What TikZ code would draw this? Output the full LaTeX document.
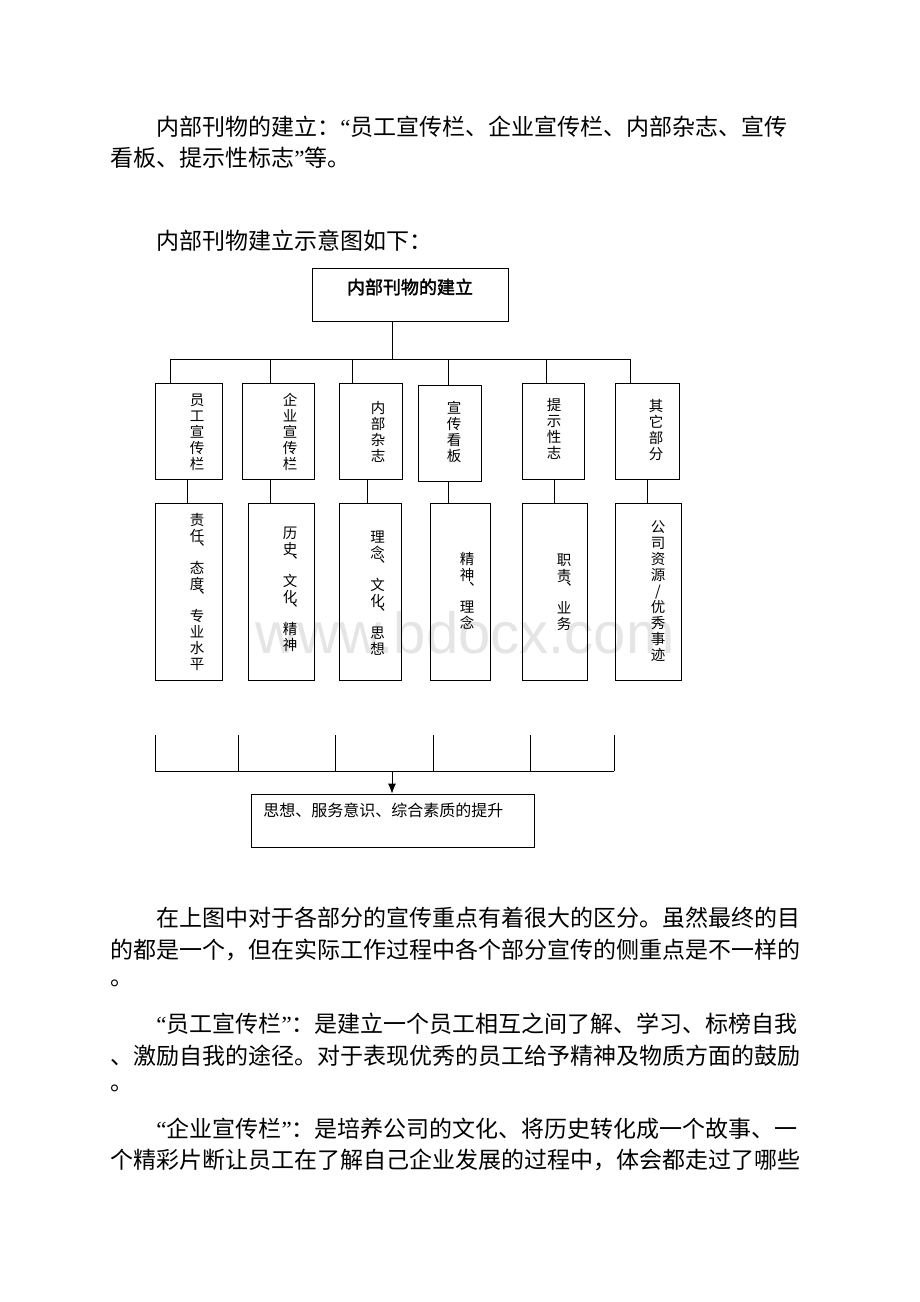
\documentclass[tikz,border=0pt]{standalone}
\usepackage{fontspec}
\setmainfont{Noto Sans CJK SC}[AutoFakeBold = 2]
\newfontfamily\markfont{Liberation Sans}
\newfontfamily\quotefont{Liberation Serif}
\newcommand\qopen{{\quotefont “}}
\newcommand\qclose{{\quotefont ”}}
\newcommand\vdun{\makebox[1em][l]{\hspace{0.65em}\smash{\raisebox{0.8em}{、}}}}
\usetikzlibrary{arrows.meta}

\begin{document}
\begin{tikzpicture}[> = {Latex[length = 10pt, width = 8pt]}, x = 1pt, y = -1pt, line width = 0.8pt,
	box/.style = {draw, rectangle, inner sep = 0pt},
	vlabel/.style = {align = center, inner sep = 0pt, font = \fontsize{14.5}{16}\selectfont},
	bodyline/.style = {anchor = west, inner sep = 0pt, font = \fontsize{23}{23}\selectfont}]

	% Page

	\fill [white] (0, 0) rectangle (920, 1302);

	% Text above the chart

	\node (introa) [bodyline] at (156, 127) {内部刊物的建立：\qopen 员工宣传栏、企业宣传栏、内部杂志、宣传};
	\node (introb) [bodyline] at (110, 158) {看板、提示性标志\qclose 等。};
	\node (caption) [bodyline] at (156, 241) {内部刊物建立示意图如下：};

	% Watermark

	\node (mark) [anchor = base west, inner sep = 0pt, text = black!10, font = \markfont\fontsize{58}{58}\selectfont] at (255, 653) {www.bdocx.com};

	% Top box

	\node (top) [box, minimum width = 196, minimum height = 53] at (410, 294.5) {};
	\node (toptext) [inner sep = 0pt, font = \fontsize{18}{18}\selectfont\bfseries] at (410, 287) {内部刊物的建立};

	% Category boxes

	\node (cat1) [box, minimum width = 67, minimum height = 96] at (188.5, 431) {};
	\node (cat2) [box, minimum width = 72, minimum height = 96] at (278, 431) {};
	\node (cat3) [box, minimum width = 63, minimum height = 96] at (370.5, 431) {};
	\node (cat4) [box, minimum width = 63, minimum height = 96] at (449.5, 433) {};
	\node (cat5) [box, minimum width = 62, minimum height = 96] at (553, 431) {};
	\node (cat6) [box, minimum width = 64, minimum height = 96] at (647, 431) {};

	\node (cat1text) [vlabel] at (197, 432) {员\\工\\宣\\传\\栏};
	\node (cat2text) [vlabel] at (290, 432) {企\\业\\宣\\传\\栏};
	\node (cat3text) [vlabel] at (378, 432) {内\\部\\杂\\志};
	\node (cat4text) [vlabel] at (454, 432) {宣\\传\\看\\板};
	\node (cat5text) [vlabel] at (554, 429) {提\\示\\性\\志};
	\node (cat6text) [vlabel] at (656, 430) {其\\它\\部\\分};

	% Content boxes

	\node (item1) [box, minimum width = 67, minimum height = 177] at (188.5, 591.5) {};
	\node (item2) [box, minimum width = 66, minimum height = 177] at (281, 591.5) {};
	\node (item3) [box, minimum width = 62, minimum height = 177] at (370, 591.5) {};
	\node (item4) [box, minimum width = 60, minimum height = 177] at (460, 591.5) {};
	\node (item5) [box, minimum width = 64.5, minimum height = 177] at (554.8, 591.5) {};
	\node (item6) [box, minimum width = 66, minimum height = 177] at (648, 591.5) {};

	\node (item1text) [vlabel] at (197, 592) {责\\任\\\vdun\\态\\度\\\vdun\\专\\业\\水\\平};
	\node (item2text) [vlabel] at (290, 589) {历\\史\\\vdun\\文\\化\\\vdun\\精\\神};
	\node (item3text) [vlabel] at (377.5, 593) {理\\念\\\vdun\\文\\化\\\vdun\\思\\想};
	\node (item4text) [vlabel] at (467, 591) {精\\神\\\vdun\\理\\念};
	\node (item5text) [vlabel] at (564, 592) {职\\责\\\vdun\\业\\务};
	\node (item6text) [vlabel] at (658, 591.5) {公\\司\\资\\源\\/\\优\\秀\\事\\迹};

	% Lines from the top box to the categories

	\coordinate (busL) at (170, 359);
	\coordinate (busR) at (630, 359);

	\draw (busL) -- (busR);
	\draw ([xshift = -18pt]top.south) -- ([xshift = -18pt]top.south |- busL);

	\foreach \i/\x in {1/170, 2/270, 3/352, 4/448, 5/546, 6/630}
		\draw (\x, 359) -- (cat\i.north -| \x, 0);

	% Lines from the categories to their contents

	\foreach \i/\x in {1/187, 2/270, 3/367, 4/448, 5/554, 6/647}
		\draw (cat\i.south -| \x, 0) -- (item\i.north -| \x, 0);

	% Result

	\node (result) [box, minimum width = 283, minimum height = 53] at (392.5, 820.5) {};
	\node (resulttext) [anchor = west, inner sep = 0pt, font = \fontsize{16}{16}\selectfont] at (263, 810) {思想、服务意识、综合素质的提升};

	\coordinate (sumL) at (155, 771);
	\coordinate (sumR) at (614, 771);
	\coordinate (sumM) at (392, 771);

	\draw (sumL) -- (sumR);
	\foreach \x in {155, 238, 335, 433, 530, 614}
		\draw (\x, 735) -- (\x, 771);
	\draw [->] (sumM) -- (sumM |- result.north);

	% Text below the chart

	\node (notea) [bodyline] at (156, 918) {在上图中对于各部分的宣传重点有着很大的区分。虽然最终的目};
	\node (noteb) [bodyline] at (110, 950) {的都是一个，但在实际工作过程中各个部分宣传的侧重点是不一样的};
	\node (notec) [bodyline] at (110, 983) {。};

	\node (staffa) [bodyline] at (156, 1024) {\qopen 员工宣传栏\qclose ：是建立一个员工相互之间了解、学习、标榜自我};
	\node (staffb) [bodyline] at (110, 1056) {、激励自我的途径。对于表现优秀的员工给予精神及物质方面的鼓励};
	\node (staffc) [bodyline] at (110, 1088) {。};

	\node (firma) [bodyline] at (156, 1129) {\qopen 企业宣传栏\qclose ：是培养公司的文化、将历史转化成一个故事、一};
	\node (firmb) [bodyline] at (110, 1160) {个精彩片断让员工在了解自己企业发展的过程中，体会都走过了哪些};

\end{tikzpicture}
\end{document}
